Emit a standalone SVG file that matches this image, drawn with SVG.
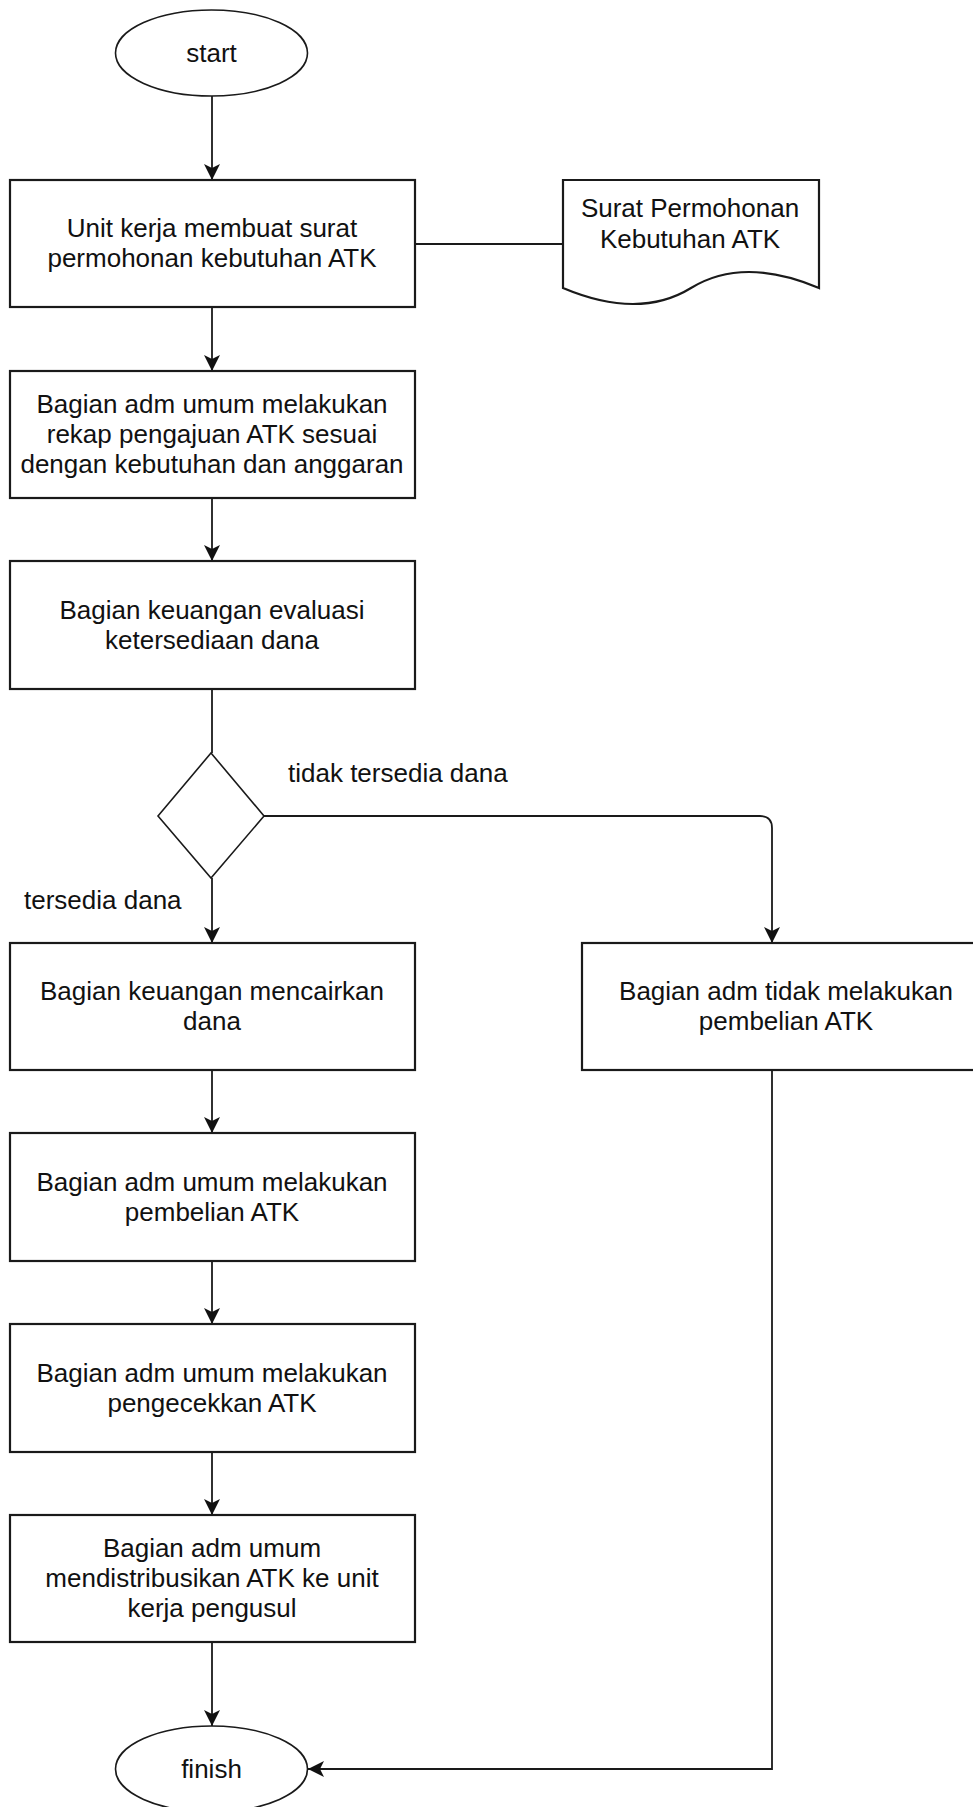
<svg xmlns="http://www.w3.org/2000/svg" width="973" height="1807" viewBox="0 0 973 1807">
<style>
.box{fill:#fff;stroke:#1a1a1a;stroke-width:2.2}
.shape{fill:#fff;stroke:#1a1a1a;stroke-width:1.6}
.edge{fill:none;stroke:#1a1a1a;stroke-width:1.8}
text{font-family:"Liberation Sans",Arial,sans-serif;font-size:26px;fill:#111}
.c{text-anchor:middle}
</style>
<defs>
<marker id="arr" markerUnits="userSpaceOnUse" viewBox="0 0 16 16" refX="16" refY="8" markerWidth="16" markerHeight="16" orient="auto">
<path d="M0,0 L16,8 L0,16 L4,8 Z" fill="#111"/>
</marker>
</defs>
<rect width="973" height="1807" fill="#fff"/>
<g id="connectors">
<path class="edge" d="M212,96 V180" marker-end="url(#arr)"/>
<path class="edge" d="M415,244 H563"/>
<path class="edge" d="M212,307 V371" marker-end="url(#arr)"/>
<path class="edge" d="M212,498 V561" marker-end="url(#arr)"/>
<path class="edge" d="M212,689 V753"/>
<path class="edge" d="M212,878 V943" marker-end="url(#arr)"/>
<path class="edge" d="M264,816 H760 Q772,816 772,828 V943" marker-end="url(#arr)"/>
<path class="edge" d="M212,1070 V1133" marker-end="url(#arr)"/>
<path class="edge" d="M212,1261 V1324" marker-end="url(#arr)"/>
<path class="edge" d="M212,1452 V1515" marker-end="url(#arr)"/>
<path class="edge" d="M212,1642 V1726" marker-end="url(#arr)"/>
<path class="edge" d="M772,1070 V1769 H308" marker-end="url(#arr)"/>
</g>
<g id="start">
<ellipse class="shape" cx="211.5" cy="53" rx="96" ry="43"/>
<text class="c" x="211.5" y="62">start</text>
</g>
<g id="n1">
<rect class="box" x="10" y="180" width="405" height="127"/>
<text class="c" x="212" y="237">Unit kerja membuat surat</text>
<text class="c" x="212" y="267">permohonan kebutuhan ATK</text>
</g>
<g id="doc">
<path class="box" d="M563,288 V180 H819 V288 Q743,256 691,288 T563,288 Z"/>
<text class="c" x="690" y="217">Surat Permohonan</text>
<text class="c" x="690" y="248">Kebutuhan ATK</text>
</g>
<g id="n2">
<rect class="box" x="10" y="371" width="405" height="127"/>
<text class="c" x="212" y="413">Bagian adm umum melakukan</text>
<text class="c" x="212" y="443">rekap pengajuan ATK sesuai</text>
<text class="c" x="212" y="473">dengan kebutuhan dan anggaran</text>
</g>
<g id="n3">
<rect class="box" x="10" y="561" width="405" height="128"/>
<text class="c" x="212" y="619">Bagian keuangan evaluasi</text>
<text class="c" x="212" y="649">ketersediaan dana</text>
</g>
<g id="decision">
<path class="shape" d="M211,753 L264,816 L211,878 L158,816 Z"/>
</g>
<g id="labels">
<text x="288" y="782">tidak tersedia dana</text>
<text x="24" y="909">tersedia dana</text>
</g>
<g id="n4">
<rect class="box" x="10" y="943" width="405" height="127"/>
<text class="c" x="212" y="1000">Bagian keuangan mencairkan</text>
<text class="c" x="212" y="1030">dana</text>
</g>
<g id="n4b">
<rect class="box" x="582" y="943" width="420" height="127"/>
<text class="c" x="786" y="1000">Bagian adm tidak melakukan</text>
<text class="c" x="786" y="1030">pembelian ATK</text>
</g>
<g id="n5">
<rect class="box" x="10" y="1133" width="405" height="128"/>
<text class="c" x="212" y="1191">Bagian adm umum melakukan</text>
<text class="c" x="212" y="1221">pembelian ATK</text>
</g>
<g id="n6">
<rect class="box" x="10" y="1324" width="405" height="128"/>
<text class="c" x="212" y="1382">Bagian adm umum melakukan</text>
<text class="c" x="212" y="1412">pengecekkan ATK</text>
</g>
<g id="n7">
<rect class="box" x="10" y="1515" width="405" height="127"/>
<text class="c" x="212" y="1557">Bagian adm umum</text>
<text class="c" x="212" y="1587">mendistribusikan ATK ke unit</text>
<text class="c" x="212" y="1617">kerja pengusul</text>
</g>
<g id="finish">
<ellipse class="shape" cx="211.5" cy="1769" rx="96" ry="43"/>
<text class="c" x="211.5" y="1778">finish</text>
</g>
</svg>
